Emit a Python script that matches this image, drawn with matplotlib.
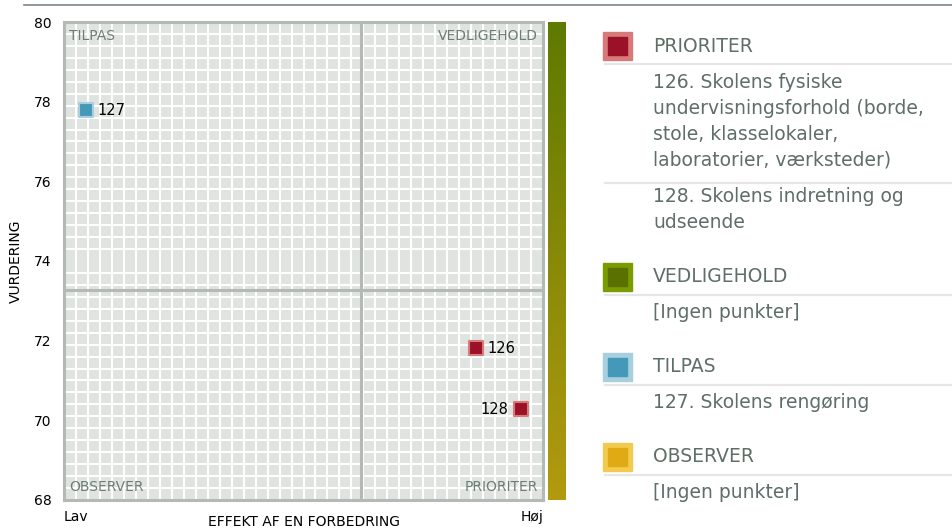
import textwrap
import numpy as np
import matplotlib
matplotlib.use("Agg")
import matplotlib.pyplot as plt
from matplotlib.patches import Rectangle
from matplotlib.colors import LinearSegmentedColormap

# data
point_ids = ["126", "127", "128"]
point_effect = [0.86, 0.046, 0.954]
point_rating = [71.81, 77.79, 70.28]
point_group = ["PRIORITER", "TILPAS", "PRIORITER"]

x_split = 0.62
y_split = 73.27
y_ticks = [68, 70, 72, 74, 76, 78, 80]

groups = ["PRIORITER", "VEDLIGEHOLD", "TILPAS", "OBSERVER"]
group_items = {
    "PRIORITER": [
        "126. Skolens fysiske undervisningsforhold (borde, stole, klasselokaler, laboratorier, værksteder)",
        "128. Skolens indretning og udseende",
    ],
    "VEDLIGEHOLD": ["[Ingen punkter]"],
    "TILPAS": ["127. Skolens rengøring"],
    "OBSERVER": ["[Ingen punkter]"],
}
group_colors = {
    "PRIORITER": ("#d97a7a", "#9b1228"),
    "VEDLIGEHOLD": ("#7b9c00", "#5a7100"),
    "TILPAS": ("#a7cfdf", "#4599b8"),
    "OBSERVER": ("#f3ca50", "#e0aa14"),
}

W, H = 952, 528
TXT = "#5f6e66"
GRID_BG = "#dfe4e1"
FRAME = "#b3bab6"

plt.rcParams["font.family"] = ["DejaVu Sans"]

fig = plt.figure(figsize=(W / 100, H / 100), dpi=100)

# main quadrant chart
ax = fig.add_axes([64 / W, 1 - 500 / H, 479 / W, 478 / H])
ax.set_facecolor(GRID_BG)
ax.set_xlim(0, 1)
ax.set_ylim(68, 80)
ax.set_xticks(np.linspace(0, 1, 41), minor=True)
ax.set_yticks(np.linspace(68, 80, 41), minor=True)
ax.grid(which="minor", color="white", linewidth=1.5)
ax.set_axisbelow(True)
ax.set_xticks([])
ax.set_yticks(y_ticks)
ax.tick_params(axis="y", length=0, pad=9, labelsize=10)
ax.tick_params(which="minor", length=0)
for s in ax.spines.values():
    s.set_color(FRAME)
    s.set_linewidth(2.2)

ax.axvline(x_split, color=FRAME, linewidth=2.2, zorder=2)
ax.axhline(y_split, color=FRAME, linewidth=2.2, zorder=2)

qkw = dict(color="#6f7d76", fontsize=10, transform=ax.transAxes)
ax.text(0.01, 0.985, "TILPAS", ha="left", va="top", **qkw)
ax.text(0.99, 0.985, "VEDLIGEHOLD", ha="right", va="top", **qkw)
ax.text(0.01, 0.012, "OBSERVER", ha="left", va="bottom", **qkw)
ax.text(0.99, 0.012, "PRIORITER", ha="right", va="bottom", **qkw)

for pid, xv, yv, g in zip(point_ids, point_effect, point_rating, point_group):
    outer, inner = group_colors[g]
    ax.scatter([xv], [yv], marker="s", s=100, color=inner, edgecolors=outer,
               linewidths=1.5, zorder=4)
    if xv > 0.93:
        ax.annotate(pid, (xv, yv), xytext=(-9, 0), textcoords="offset points",
                    ha="right", va="center", fontsize=10.5, zorder=5)
    else:
        ax.annotate(pid, (xv, yv), xytext=(8, 0), textcoords="offset points",
                    ha="left", va="center", fontsize=10.5, zorder=5)

ax.set_ylabel("VURDERING", fontsize=10, labelpad=8)
ax.text(0.0, -0.02, "Lav", transform=ax.transAxes, ha="left", va="top", fontsize=10)
ax.text(1.0, -0.02, "Høj", transform=ax.transAxes, ha="right", va="top", fontsize=10)
ax.text(0.5, -0.032, "EFFEKT AF EN FORBEDRING", transform=ax.transAxes,
        ha="center", va="top", fontsize=10)

# colour strip
cax = fig.add_axes([548 / W, 1 - 500 / H, 18 / W, 478 / H])
cmap = LinearSegmentedColormap.from_list("vb", ["#5e7a00", "#b39a0f"])
cax.imshow(np.linspace(0, 1, 256).reshape(-1, 1), aspect="auto", cmap=cmap)
cax.set_axis_off()

# overlay in pixel coordinates for top rule and legend
ov = fig.add_axes([0, 0, 1, 1], zorder=-1)
ov.set_xlim(0, W)
ov.set_ylim(H, 0)
ov.set_axis_off()
ov.plot([24, W], [5, 5], color="#7d8883", linewidth=1.2)

y = 46
for g in groups:
    outer, inner = group_colors[g]
    ov.add_patch(Rectangle((603, y - 14), 29, 28, color=outer))
    ov.add_patch(Rectangle((608, y - 9), 19, 18, color=inner))
    ov.text(653, y, g, ha="left", va="center", color=TXT, fontsize=13.5)
    ov.plot([605, W], [y + 18, y + 18], color="#e6e6e6", linewidth=1.6)
    ly = y + 36
    items = group_items[g]
    for i, item in enumerate(items):
        lines = textwrap.wrap(item, 28)
        for ln in lines:
            ov.text(653, ly, ln, ha="left", va="center", color=TXT, fontsize=13.5)
            ly += 26
        ly -= 26
        if i < len(items) - 1:
            ov.plot([605, W], [ly + 23, ly + 23], color="#e6e6e6", linewidth=1.6)
            ly += 37
    y = ly + 54

fig.savefig("out.png", dpi=100)
